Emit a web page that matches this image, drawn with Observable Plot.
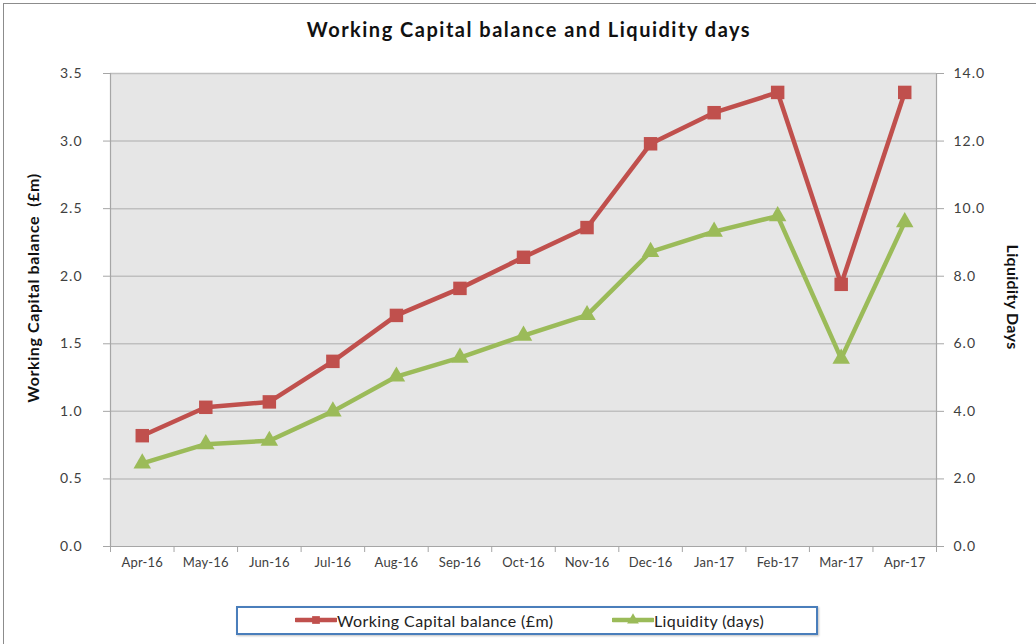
<!DOCTYPE html>
<html>
<head>
<meta charset="utf-8">
<script src="https://cdn.jsdelivr.net/npm/d3@7"></script>
<script src="https://cdn.jsdelivr.net/npm/@observablehq/plot@0.6"></script>
<style>
  html, body { margin: 0; padding: 0; background: #fff; }
  body { font-family: Lato, "Open Sans", sans-serif; }
  #chart { position: relative; width: 1036px; height: 644px; overflow: hidden; background: #fff; }
  #frame { position: absolute; left: 3px; top: 3px; width: 1100px; height: 700px; border-left: 1.5px solid #8c8c8c; border-top: 1.5px solid #8c8c8c; box-sizing: border-box; }
  #title { position: absolute; top: 17px; left: 0; width: 1058px; text-align: center; font-weight: bold; font-size: 20px; letter-spacing: 1.5px; color: #111; }
  #plot { position: absolute; left: 0; top: 0; }
  #plot svg g[aria-label="y-axis tick label"] text { letter-spacing: 1px; }
  #plot svg g[aria-label="x-axis tick label"] text { letter-spacing: 0.2px; }
  .ytitle { position: absolute; font-weight: bold; font-size: 16px; color: #111; white-space: nowrap; }
  #ytitleL { left: 32px; top: 288px; letter-spacing: 0.6px; transform: translate(-50%, -50%) rotate(-90deg); }
  #ytitleR { left: 1013px; top: 297px; letter-spacing: 0.3px; transform: translate(-50%, -50%) rotate(90deg); }
  #legend { position: absolute; left: 236px; top: 606px; width: 582px; height: 29px; border: 2.5px solid #4a7ebb; box-sizing: border-box; box-shadow: 1px 1px 2px rgba(0,0,0,0.25); }
  .item { position: absolute; top: 0; height: 24px; display: flex; align-items: center; font-size: 16px; letter-spacing: 0.4px; color: #222; white-space: nowrap; }
  .item svg { display: block; }
</style>
</head>
<body>
<div id="chart">
  <div id="frame"></div>
  <div id="plot"></div>
  <div id="title">Working Capital balance and Liquidity days</div>
  <div class="ytitle" id="ytitleL">Working Capital balance&nbsp; (£m)</div>
  <div class="ytitle" id="ytitleR">Liquidity Days</div>
  <div id="legend"></div>
</div>
<script>
// ---- data ----
const months = ["Apr-16","May-16","Jun-16","Jul-16","Aug-16","Sep-16","Oct-16","Nov-16","Dec-16","Jan-17","Feb-17","Mar-17","Apr-17"];
const wcBalance = [0.82, 1.03, 1.07, 1.37, 1.71, 1.91, 2.14, 2.36, 2.98, 3.21, 3.36, 1.94, 3.36];
const liquidity = [2.46, 3.03, 3.13, 4.0, 5.03, 5.59, 6.24, 6.85, 8.72, 9.32, 9.78, 5.56, 9.6];
const leftTicks = [0, 0.5, 1.0, 1.5, 2.0, 2.5, 3.0, 3.5];
const rightTicks = [0, 2, 4, 6, 8, 10, 12, 14];
const seriesNames = ["Working Capital balance (£m)", "Liquidity (days)"];

const red = "#c0504d", green = "#9bbb59", axisGray = "#a6a6a6", gridGray = "#bfbfbf";
const ratio = 14 / 3.5; // right axis / left axis

const chart = Plot.plot({
  width: 1036,
  height: 600,
  marginTop: 73,
  marginBottom: 54,
  marginLeft: 110,
  marginRight: 100,
  x: { type: "linear", domain: [-0.5, months.length - 0.5], axis: null },
  y: { domain: [0, 3.5], axis: null },
  style: { fontFamily: "Lato, sans-serif", fontSize: "13px", color: "#404040", background: "transparent", overflow: "visible" },
  marks: [
    Plot.frame({ fill: "#e6e6e6" }),
    Plot.ruleY(leftTicks.slice(1), { stroke: gridGray, strokeWidth: 1.5 }),
    Plot.ruleX([-0.5, months.length - 0.5], { stroke: axisGray, strokeWidth: 1.2 }),
    Plot.ruleY([0], { stroke: axisGray, strokeWidth: 1.2 }),
    Plot.axisY({ anchor: "left", ticks: leftTicks, tickFormat: d => d.toFixed(1), tickSize: 7, tickPadding: 21, stroke: axisGray, label: null, fontSize: 14 }),
    Plot.axisY({ anchor: "right", ticks: rightTicks.map(v => v / ratio), tickFormat: d => (d * ratio).toFixed(1), tickSize: 7, tickPadding: 10, stroke: axisGray, label: null, fontSize: 14 }),
    Plot.axisX({ ticks: months.map((m, i) => i), tickFormat: i => months[i], tickSize: 0, tickPadding: 11, label: null, fontSize: 13 }),
    Plot.axisX({ ticks: d3.range(-0.5, months.length, 1), tickFormat: () => "", tickSize: 6, stroke: axisGray, label: null }),
    Plot.lineY(wcBalance, { x: (d, i) => i, y: d => d, stroke: red, strokeWidth: 4.5 }),
    Plot.dot(wcBalance, { x: (d, i) => i, y: d => d, symbol: "square", r: 7.6, fill: red, stroke: null }),
    Plot.lineY(liquidity, { x: (d, i) => i, y: d => d / ratio, stroke: green, strokeWidth: 4.5 }),
    Plot.dot(liquidity, { x: (d, i) => i, y: d => d / ratio, symbol: "triangle", r: 6.5, fill: green, stroke: null })
  ]
});
document.getElementById("plot").appendChild(chart);

// ---- legend ----
const legend = d3.select("#legend");
const items = [
  { name: seriesNames[0], color: red, symbol: "square", left: 57 },
  { name: seriesNames[1], color: green, symbol: "triangle", left: 374 }
];
for (const it of items) {
  const div = legend.append("div").attr("class", "item").style("left", it.left + "px");
  const svg = div.append("svg").attr("width", 42).attr("height", 14);
  svg.append("line").attr("x1", 1).attr("x2", 41).attr("y1", 7).attr("y2", 7)
    .attr("stroke", it.color).attr("stroke-width", 4.5).attr("stroke-linecap", "round");
  svg.append("path").attr("transform", "translate(21,7)")
    .attr("d", d3.symbol(it.symbol === "square" ? d3.symbolSquare : d3.symbolTriangle, 60)())
    .attr("fill", it.color);
  div.append("span").text(it.name);
}
</script>
</body>
</html>
